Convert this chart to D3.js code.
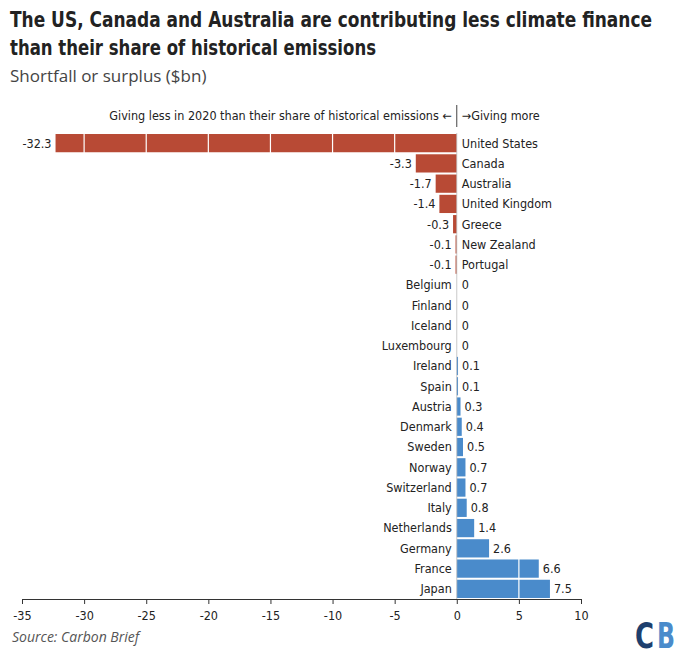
<!DOCTYPE html>
<html><head><meta charset="utf-8">
<script src="https://cdn.jsdelivr.net/npm/d3@7"></script>
<style>
body{margin:0;background:#fff;font-family:"DejaVu Sans Condensed","Liberation Sans Narrow",sans-serif;}
</style></head><body>
<svg id="c" width="680" height="663"></svg>
<script>
const countries = ["United States","Canada","Australia","United Kingdom","Greece","New Zealand","Portugal","Belgium","Finland","Iceland","Luxembourg","Ireland","Spain","Austria","Denmark","Sweden","Norway","Switzerland","Italy","Netherlands","Germany","France","Japan"];
const values = [-32.3,-3.3,-1.7,-1.4,-0.3,-0.1,-0.1,0,0,0,0,0.1,0.1,0.3,0.4,0.5,0.7,0.7,0.8,1.4,2.6,6.6,7.5];
const xTicks = [-35,-30,-25,-20,-15,-10,-5,0,5,10];

const svg = d3.select("#c");
const font = '"Liberation Sans Narrow","DejaVu Sans Condensed",sans-serif';
const x = d3.scaleLinear().domain([-35,10]).range([22,581]);
const y = d3.scaleBand().domain(countries).range([133,599]).paddingInner(0.1).paddingOuter(0.05);

svg.append("text").attr("x",10).attr("y",27).attr("font-size",22).attr("font-weight","bold").attr("fill","#222")
  .attr("textLength",642).attr("lengthAdjust","spacingAndGlyphs")
  .text("The US, Canada and Australia are contributing less climate finance");
svg.append("text").attr("x",10).attr("y",55).attr("font-size",22).attr("font-weight","bold").attr("fill","#222")
  .attr("textLength",366).attr("lengthAdjust","spacingAndGlyphs")
  .text("than their share of historical emissions");
svg.append("text").attr("x",10).attr("y",82).attr("font-size",17).attr("fill","#444")
  .style("font-family",'"Open Sans",sans-serif').text("Shortfall or surplus ($bn)");

const g = svg.append("g").style("font-family",font).attr("font-stretch","condensed");

g.selectAll("rect.bar").data(values).join("rect")
  .attr("x",d=>x(Math.min(0,d))).attr("width",d=>Math.abs(x(d)-x(0)))
  .attr("y",(d,i)=>y(countries[i])).attr("height",y.bandwidth())
  .attr("fill",d=>d<0?"#b84a35":"#4a8bcb");

// white grid lines inside bars
g.selectAll("line.grid").data(xTicks.filter(t=>t!==0)).join("line")
  .attr("x1",d=>x(d)).attr("x2",d=>x(d)).attr("y1",133).attr("y2",599)
  .attr("stroke","#fff").attr("stroke-width",1.2);

g.append("line").attr("x1",x(0)).attr("x2",x(0)).attr("y1",133).attr("y2",599).attr("stroke","#bbb").attr("stroke-width",0.8);

g.selectAll("text.val").data(values).join("text")
  .attr("x",d=>d<0?x(d)-4:(d===0?x(0)+5:x(d)+4))
  .attr("y",(d,i)=>y(countries[i])+y.bandwidth()/2).attr("dy","0.35em")
  .attr("text-anchor",d=>d<0?"end":"start").attr("font-size",12.5).attr("fill","#222")
  .text(d=>String(d));

g.selectAll("text.lab").data(values).join("text")
  .attr("x",d=>d<0?x(0)+5:x(0)-5)
  .attr("y",(d,i)=>y(countries[i])+y.bandwidth()/2).attr("dy","0.35em")
  .attr("text-anchor",d=>d<0?"start":"end").attr("font-size",12.5).attr("fill","#222")
  .text((d,i)=>countries[i]);

// annotation
g.append("line").attr("x1",x(0)).attr("x2",x(0)).attr("y1",105).attr("y2",127).attr("stroke","#444");
g.append("text").attr("x",x(0)-5).attr("y",120).attr("text-anchor","end").attr("font-size",12.5).attr("fill","#222")
  .text("Giving less in 2020 than their share of historical emissions ←");
g.append("text").attr("x",x(0)+5).attr("y",120).attr("font-size",12.5).attr("fill","#222").text("→Giving more");

const ax = g.append("g").attr("transform","translate(0,599)")
  .call(d3.axisBottom(x).tickValues(xTicks).tickSize(5).tickFormat(d=>String(d)));
ax.select(".domain").attr("stroke","#333");
ax.selectAll("line").attr("stroke","#333");
ax.selectAll("text").attr("font-size",12.5).attr("fill","#222").style("font-family",font).attr("dy","1em");

svg.append("text").attr("x",12).attr("y",642).attr("font-size",14).attr("font-style","italic").attr("fill","#555")
  .style("font-family",'"Open Sans",sans-serif').text("Source: Carbon Brief");

svg.append("text").attr("x",635).attr("y",648).attr("font-size",36).attr("font-weight","bold").attr("fill","#1e3f6e")
  .attr("textLength",19).attr("lengthAdjust","spacingAndGlyphs").style("font-family",font).text("C");
svg.append("text").attr("x",657).attr("y",648).attr("font-size",36).attr("font-weight","bold").attr("fill","#4a8bcb")
  .attr("textLength",18).attr("lengthAdjust","spacingAndGlyphs").style("font-family",font).text("B");
</script></body></html>
